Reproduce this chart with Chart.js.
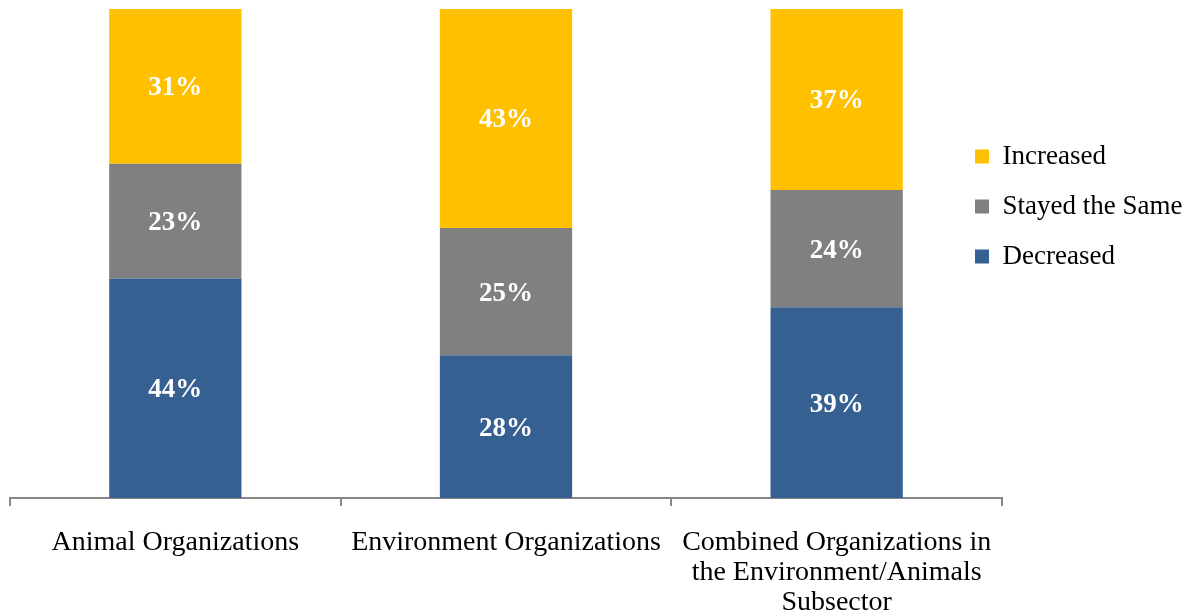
<!DOCTYPE html>
<html>
<head>
<meta charset="utf-8">
<script src="https://cdn.jsdelivr.net/npm/chart.js@4.4.1/dist/chart.umd.min.js"></script>
<style>
  html, body { margin: 0; padding: 0; background: #ffffff; }
  #wrap { width: 1192px; height: 616px; position: relative; }
</style>
</head>
<body>
<div id="wrap"><canvas id="c" width="1192" height="616"></canvas></div>
<script>
const categories = [
  "Animal Organizations",
  "Environment Organizations",
  ["Combined Organizations in", "the Environment/Animals", "Subsector"]
];
const decreased = [44, 28, 39];
const stayedSame = [23, 25, 24];
const increased = [31, 43, 37];
const seriesNames = ["Decreased", "Stayed the Same", "Increased"];
const seriesColors = ["#376092", "#808080", "#FFC000"];

const raw = [decreased, stayedSame, increased];
// 100% stacked: each bar normalised to its own total
const totals = categories.map((_, i) => raw.reduce((s, arr) => s + arr[i], 0));
const datasets = raw.map((arr, k) => ({
  label: seriesNames[k],
  data: arr.map((v, i) => v / totals[i] * 100),
  rawValues: arr,
  backgroundColor: seriesColors[k],
  borderWidth: 0,
  categoryPercentage: 0.8,
  barPercentage: 0.5
}));

const SERIF = "'Liberation Serif', 'DejaVu Serif', serif";

const valueLabels = {
  id: 'valueLabels',
  afterDatasetsDraw(chart) {
    const ctx = chart.ctx;
    ctx.save();
    ctx.fillStyle = '#ffffff';
    ctx.font = "bold 27px " + SERIF;
    ctx.textAlign = 'center';
    ctx.textBaseline = 'middle';
    chart.data.datasets.forEach((ds, di) => {
      const meta = chart.getDatasetMeta(di);
      meta.data.forEach((el, i) => {
        const y = (el.y + el.base) / 2;
        ctx.fillText(ds.rawValues[i] + '%', el.x, y + 2);
      });
    });
    ctx.restore();
  }
};

const legendPlace = {
  id: 'legendPlace',
  afterLayout(chart) {
    const lg = chart.legend;
    if (!lg) return;
    const dx = -50, dy = 111;
    lg.left += dx; lg.width -= dx;
    lg.top += dy; lg.bottom += dy;
  }
};

new Chart(document.getElementById('c'), {
  type: 'bar',
  data: { labels: categories, datasets },
  options: {
    responsive: false,
    animation: false,
    devicePixelRatio: 1,
    layout: { padding: { top: 9, left: 10, right: 0, bottom: -23 } },
    plugins: {
      tooltip: { enabled: false },
      legend: {
        position: 'right',
        align: 'start',
        reverse: true,
        maxWidth: 190,
        labels: {
          boxWidth: 14,
          boxHeight: 14,
          padding: 23,
          color: '#000000',
          font: { family: SERIF, size: 27 }
        }
      }
    },
    scales: {
      x: {
        stacked: true,
        grid: {
          display: true,
          offset: true,
          drawOnChartArea: false,
          drawTicks: true,
          tickLength: 8,
          color: '#878787',
          lineWidth: 2
        },
        border: { display: true, color: '#878787', width: 2 },
        ticks: {
          color: '#000000',
          padding: 22,
          maxRotation: 0,
          autoSkip: false,
          font: { family: SERIF, size: 28, lineHeight: 1.06 }
        }
      },
      y: {
        stacked: true,
        display: false,
        min: 0,
        max: 100
      }
    }
  },
  plugins: [valueLabels, legendPlace]
});
</script>
</body>
</html>
